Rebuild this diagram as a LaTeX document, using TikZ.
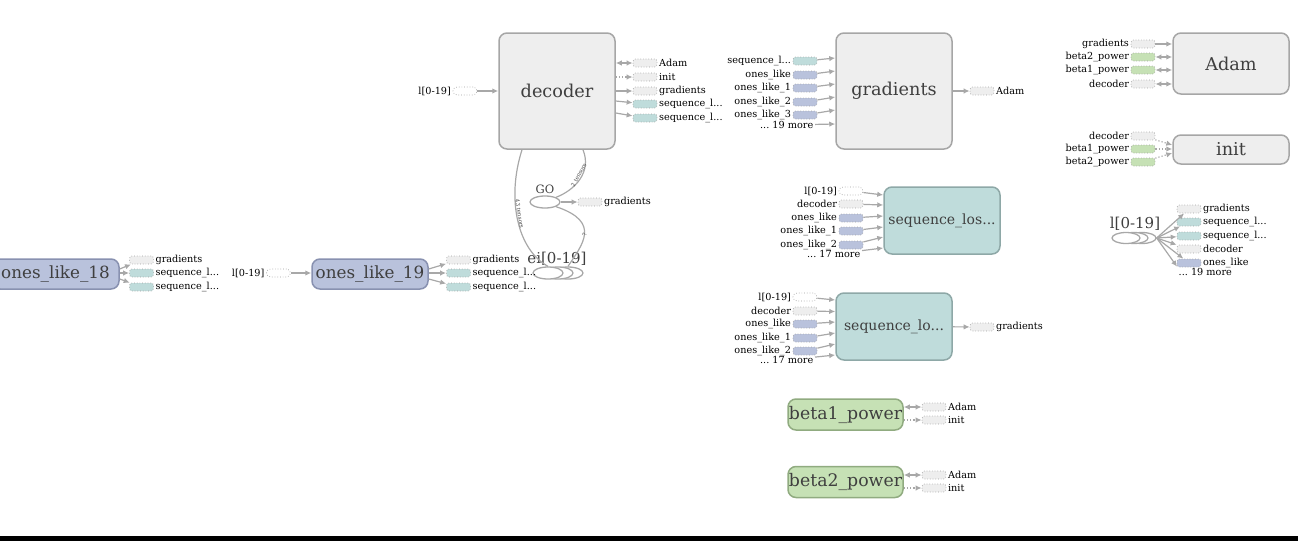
\documentclass[tikz,border=0pt]{standalone}
\usepackage{fontspec}
\setmainfont{DejaVu Serif}
\usepackage{xcolor}
\usetikzlibrary{arrows.meta, calc, shapes.geometric}
\definecolor{opfill}{HTML}{EEEEEE}
\definecolor{opline}{HTML}{A6A6A6}
\definecolor{seqfill}{HTML}{BFDCDB}
\definecolor{seqline}{HTML}{8EA8A7}
\definecolor{onesfill}{HTML}{B9C2DC}
\definecolor{onesline}{HTML}{8891B0}
\definecolor{powfill}{HTML}{C6E1B5}
\definecolor{powline}{HTML}{90AB80}
\definecolor{edge}{HTML}{A8A8A8}
\definecolor{stubline}{HTML}{A0A0A0}
\definecolor{labeltxt}{HTML}{3F3F3F}

\begin{document}
\frenchspacing
\begin{tikzpicture}[x=1pt, y=-1pt,
        op/.style={rectangle, draw=opline, fill=opfill, line width=1.5pt, rounded corners=8pt,
                   minimum width=116pt, minimum height=116pt, inner sep=0pt, text=labeltxt,
                   font=\fontsize{17.7}{20}\selectfont},
        seq/.style={op, draw=seqline, fill=seqfill, minimum height=67pt, font=\fontsize{14}{16}\selectfont},
        ones/.style={op, draw=onesline, fill=onesfill, minimum height=30pt, font=\fontsize{16.8}{18}\selectfont},
        pow/.style={op, draw=powline, fill=powfill, minimum width=115pt, minimum height=31pt,
                    font=\fontsize{17.3}{19}\selectfont},
        stub/.style={rectangle, draw=stubline, dotted, line width=0.7pt, rounded corners=2.5pt,
                     minimum width=24pt, minimum height=8pt, inner sep=0pt},
        gstub/.style={stub, fill=opfill},
        tstub/.style={stub, fill=seqfill},
        bstub/.style={stub, fill=onesfill},
        pstub/.style={stub, fill=powfill},
        wstub/.style={stub, fill=white, rounded corners=4pt},
        lbl/.style={font=\fontsize{9.7}{10}\selectfont, inner sep=1.5pt, text=black},
        big/.style={font=\fontsize{15}{16}\selectfont, text=labeltxt, inner sep=1pt},
        bund/.style={ellipse, draw=edge, fill=white, line width=1.3pt, minimum width=30pt,
                     minimum height=12pt, inner sep=0pt},
        arr/.style={-{Latex[length=6pt,width=5.5pt]}, draw=edge, line width=1.2pt},
        bi/.style={{Latex[length=6pt,width=5.5pt]}-{Latex[length=6pt,width=5.5pt]}, draw=edge, line width=1.2pt},
        ctl/.style={arr, dotted},
        wire/.style={draw=edge, line width=1.2pt},
        elab/.style={font=\fontsize{5.5}{6}\selectfont, text=gray!55!black, sloped, inner sep=0.5pt}
    ]
    \useasboundingbox (0,0) rectangle (1298,541);
    % decoder
    \node[op] (decoder) at (557,91) {decoder};
    \node[wstub, label={[lbl]left:{l[0-19]}}] (decin) at (465,91) {};
    \node[gstub, label={[lbl]right:Adam}] (decadam) at (645,63) {};
    \node[gstub, label={[lbl]right:init}] (decinit) at (645,77) {};
    \node[gstub, label={[lbl]right:gradients}] (decgrad) at (645,91) {};
    \node[tstub, label={[lbl]right:sequence\_l...}] (decseqa) at (645,104) {};
    \node[tstub, label={[lbl]right:sequence\_l...}] (decseqb) at (645,118) {};
    \draw[arr] (decin) -- (decoder);
    \draw[bi] (decoder.east |- decadam) -- (decadam);
    \draw[ctl] (decoder.east |- decinit) -- (decinit);
    \draw[arr] (decoder) -- (decgrad);
    \draw[arr] ($(decoder.east)+(0,10)$) -- (decseqa);
    \draw[arr] ($(decoder.east)+(0,22)$) -- (decseqb);

    % GO and ei[0-19]
    \node[bund, label={[big, font=\fontsize{11.5}{12}\selectfont]above:GO}] (go) at (545,202) {};
    \node[gstub, label={[lbl]right:gradients}] (gograd) at (590,202) {};
    \draw[arr] (go) -- (gograd);
    \node[bund] (ei3) at (568,273) {};
    \node[bund] (ei2) at (558,273) {};
    \node[bund, label={[big, xshift=9pt]above:{ei[0-19]}}] (ei) at (548,273) {};
    \draw[wire] ([xshift=-35pt]decoder.south) .. controls (506,200) and (518,250) .. (ei.north)
        node[elab, pos=0.45, above] {43 tensors};
    \draw[wire] ([xshift=26pt]decoder.south) .. controls (592,172) and (575,190) .. (go.north east)
        node[elab, pos=0.45, above] {2 tensors};
    \draw[wire] (go.south east) .. controls (602,222) and (582,245) .. (ei3.north)
        node[elab, pos=0.55, right] {?};

    % ones_like_18 and ones_like_19
    \node[ones, minimum width=127pt] (ol18) at (55.5,274) {ones\_like\_18};
    \node[gstub, label={[lbl]right:gradients}] (ol18grad) at (141.5,260) {};
    \node[tstub, label={[lbl]right:sequence\_l...}] (ol18seqa) at (141.5,273) {};
    \node[tstub, label={[lbl]right:sequence\_l...}] (ol18seqb) at (141.5,287) {};
    \draw[arr] ($(ol18.east)+(0,-5)$) -- (ol18grad);
    \draw[arr] (ol18.east |- ol18seqa) -- (ol18seqa);
    \draw[arr] ($(ol18.east)+(0,5)$) -- (ol18seqb);
    \node[ones] (ol19) at (370,274) {ones\_like\_19};
    \node[wstub, label={[lbl]left:{l[0-19]}}] (ol19in) at (278.5,273) {};
    \node[gstub, label={[lbl]right:gradients}] (ol19grad) at (458.5,260) {};
    \node[tstub, label={[lbl]right:sequence\_l...}] (ol19seqa) at (458.5,273) {};
    \node[tstub, label={[lbl]right:sequence\_l...}] (ol19seqb) at (458.5,287) {};
    \draw[arr] (ol19in) -- (ol19.west |- ol19in);
    \draw[arr] ($(ol19.east)+(0,-5)$) -- (ol19grad);
    \draw[arr] (ol19.east |- ol19seqa) -- (ol19seqa);
    \draw[arr] ($(ol19.east)+(0,5)$) -- (ol19seqb);

    % gradients
    \node[op] (grad) at (894,91) {gradients};
    \node[tstub, label={[lbl]left:sequence\_l...}] (gradseq) at (805,61) {};
    \node[bstub, label={[lbl]left:ones\_like}] (gradol) at (805,75) {};
    \node[bstub, label={[lbl]left:ones\_like\_1}] (gradola) at (805,88) {};
    \node[bstub, label={[lbl]left:ones\_like\_2}] (gradolb) at (805,102) {};
    \node[bstub, label={[lbl]left:ones\_like\_3}] (gradolc) at (805,115) {};
    \node[lbl, anchor=east] (gradmore) at (815,125) {... 19 more};
    \node[gstub, label={[lbl]right:Adam}] (gradadam) at (982,91) {};
    \draw[arr] (gradseq) -- ($(grad.west)+(0,-33)$);
    \draw[arr] (gradol) -- ($(grad.west)+(0,-20)$);
    \draw[arr] (gradola) -- ($(grad.west)+(0,-7)$);
    \draw[arr] (gradolb) -- ($(grad.west)+(0,6)$);
    \draw[arr] (gradolc) -- ($(grad.west)+(0,19)$);
    \draw[arr] (gradmore) -- ($(grad.west)+(0,33)$);
    \draw[arr] (grad) -- (gradadam);

    % Adam and init
    \node[op, minimum height=61pt] (adam) at (1231,63.5) {Adam};
    \node[gstub, label={[lbl]left:gradients}] (adgrad) at (1143,44) {};
    \node[pstub, label={[lbl]left:beta2\_power}] (adbb) at (1143,57) {};
    \node[pstub, label={[lbl]left:beta1\_power}] (adba) at (1143,70) {};
    \node[gstub, label={[lbl]left:decoder}] (addec) at (1143,84) {};
    \draw[arr] (adgrad) -- (adam.west |- adgrad);
    \draw[bi] (adbb) -- (adam.west |- adbb);
    \draw[bi] (adba) -- (adam.west |- adba);
    \draw[bi] (addec) -- (adam.west |- addec);
    \node[op, minimum height=29pt] (init) at (1231,149.5) {init};
    \node[gstub, label={[lbl]left:decoder}] (indec) at (1143,136) {};
    \node[pstub, label={[lbl]left:beta1\_power}] (inba) at (1143,149) {};
    \node[pstub, label={[lbl]left:beta2\_power}] (inbb) at (1143,162) {};
    \draw[ctl] (indec) -- ($(init.west)+(0,-4.5)$);
    \draw[ctl] (inba) -- ($(init.west)+(0,-0.5)$);
    \draw[ctl] (inbb) -- ($(init.west)+(0,3.5)$);

    % sequence_los...
    \node[seq] (seqa) at (942,220.5) {sequence\_los...};
    \node[wstub, label={[lbl]left:{l[0-19]}}] (sqain) at (851,191) {};
    \node[gstub, label={[lbl]left:decoder}] (sqadec) at (851,204) {};
    \node[bstub, label={[lbl]left:ones\_like}] (sqaol) at (851,218) {};
    \node[bstub, label={[lbl]left:ones\_like\_1}] (sqaola) at (851,231) {};
    \node[bstub, label={[lbl]left:ones\_like\_2}] (sqaolb) at (851,245) {};
    \node[lbl, anchor=east] (sqamore) at (862,254) {... 17 more};
    \draw[arr] (sqain) -- ($(seqa.west)+(0,-25.5)$);
    \draw[arr] (sqadec) -- ($(seqa.west)+(0,-15.5)$);
    \draw[arr] (sqaol) -- ($(seqa.west)+(0,-4.5)$);
    \draw[arr] (sqaola) -- ($(seqa.west)+(0,6.5)$);
    \draw[arr] (sqaolb) -- ($(seqa.west)+(0,16.5)$);
    \draw[arr] (sqamore) -- ($(seqa.west)+(0,27.5)$);

    % sequence_lo...
    \node[seq] (seqb) at (894,326.5) {sequence\_lo...};
    \node[wstub, label={[lbl]left:{l[0-19]}}] (sqbin) at (805,297) {};
    \node[gstub, label={[lbl]left:decoder}] (sqbdec) at (805,311) {};
    \node[bstub, label={[lbl]left:ones\_like}] (sqbol) at (805,324) {};
    \node[bstub, label={[lbl]left:ones\_like\_1}] (sqbola) at (805,338) {};
    \node[bstub, label={[lbl]left:ones\_like\_2}] (sqbolb) at (805,351) {};
    \node[lbl, anchor=east] (sqbmore) at (815,360) {... 17 more};
    \node[gstub, label={[lbl]right:gradients}] (sqbgrad) at (982,327) {};
    \draw[arr] (sqbin) -- ($(seqb.west)+(0,-26.5)$);
    \draw[arr] (sqbdec) -- ($(seqb.west)+(0,-15)$);
    \draw[arr] (sqbol) -- ($(seqb.west)+(0,-4.5)$);
    \draw[arr] (sqbola) -- ($(seqb.west)+(0,6.5)$);
    \draw[arr] (sqbolb) -- ($(seqb.west)+(0,17.5)$);
    \draw[arr] (sqbmore) -- ($(seqb.west)+(0,28.5)$);
    \draw[arr] (seqb) -- (sqbgrad);

    % l[0-19]
    \node[bund, minimum width=28pt, minimum height=11pt] (lr3) at (1142,238) {};
    \node[bund, minimum width=28pt, minimum height=11pt] (lr2) at (1134,238) {};
    \node[bund, minimum width=28pt, minimum height=11pt, label={[big, xshift=9pt]above:{l[0-19]}}] (lr) at (1126,238) {};
    \node[gstub, label={[lbl]right:gradients}] (lrgrad) at (1189,209) {};
    \node[tstub, label={[lbl]right:sequence\_l...}] (lrseqa) at (1189,222) {};
    \node[tstub, label={[lbl]right:sequence\_l...}] (lrseqb) at (1189,236) {};
    \node[gstub, label={[lbl]right:decoder}] (lrdec) at (1189,249) {};
    \node[bstub, label={[lbl]right:ones\_like}] (lrol) at (1189,263) {};
    \node[lbl, anchor=west] (lrmore) at (1177,272) {... 19 more};
    \draw[arr] (lr3.east) -- (lrgrad);
    \draw[arr] (lr3.east) -- (lrseqa);
    \draw[arr] (lr3.east) -- (lrseqb);
    \draw[arr] (lr3.east) -- (lrdec);
    \draw[arr] (lr3.east) -- (lrol);
    \draw[arr] (lr3.east) -- (lrmore.north west);

    % beta1_power and beta2_power
    \node[pow] (b1) at (845.5,414.5) {beta1\_power};
    \node[gstub, label={[lbl]right:Adam}] (b1adam) at (934,407) {};
    \node[gstub, label={[lbl]right:init}] (b1init) at (934,420) {};
    \draw[bi] (b1.east |- b1adam) -- (b1adam);
    \draw[ctl] (b1.east |- b1init) -- (b1init);
    \node[pow] (b2) at (845.5,482) {beta2\_power};
    \node[gstub, label={[lbl]right:Adam}] (b2adam) at (934,475) {};
    \node[gstub, label={[lbl]right:init}] (b2init) at (934,488) {};
    \draw[bi] (b2.east |- b2adam) -- (b2adam);
    \draw[ctl] (b2.east |- b2init) -- (b2init);

    \fill[black] (0,536) rectangle (1298,541);
\end{tikzpicture}
\end{document}
